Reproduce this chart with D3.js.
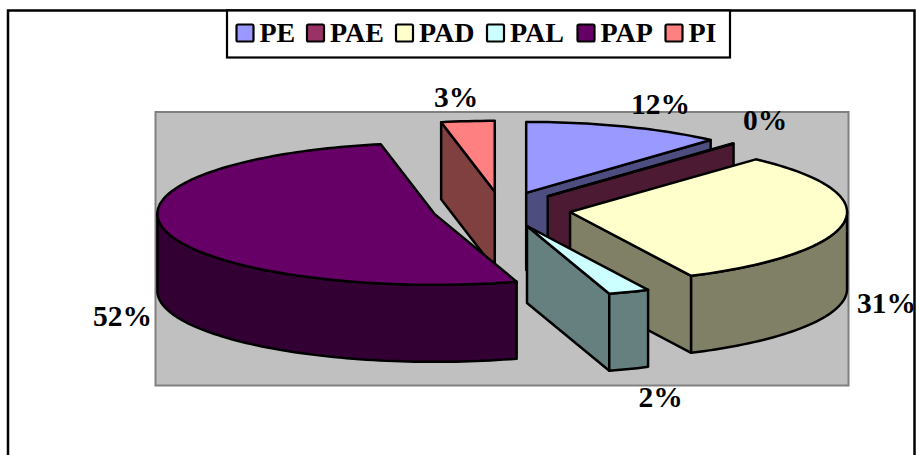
<!DOCTYPE html>
<html><head><meta charset="utf-8">
<script src="https://cdn.jsdelivr.net/npm/d3@7"></script>
<style>html,body{margin:0;padding:0;background:#fff;overflow:hidden}svg{display:block}text{font-family:"Liberation Serif","Times New Roman",serif;font-weight:bold;fill:#000}</style>
</head><body><svg id="c" width="916" height="455"></svg>
<script>
const categories = ["PE","PAE","PAD","PAL","PAP","PI"];
const seriesValues = [11.6,0.1,31.1,2.4,51.7,3.1];
const colors = ["#9999FF","#993366","#FFFFCC","#CCFFFF","#660066","#FF8080"];
const drawOrder = ["PI","PE","PAE","PAD","PAL","PAP"];
const labelPos = {PE:[660.5,114],PAE:[765,130],PAD:[886.5,313],PAL:[660.5,407],PAP:[122.5,326],PI:[456,107]};
const legendStarts = [236.5,307,396,487,577.5,665.5];

const W=916,H=455, cx=501.5, cy=209.5, rx=277, ry=71, depth=77, explode=0.25;
const svg=d3.select("#c");
svg.append("rect").attr("width",W).attr("height",H).attr("fill","#fff");
svg.append("rect").attr("x",8).attr("y",10.5).attr("width",906.5).attr("height",460).attr("fill","#fff").attr("stroke","#000").attr("stroke-width",2.5);
svg.append("rect").attr("x",155.5).attr("y",112).attr("width",693).attr("height",273.5).attr("fill","#C0C0C0").attr("stroke","#808080").attr("stroke-width",2);

const color=d3.scaleOrdinal(categories,colors);
const pie=d3.pie().sort(null).value(d=>d.v);
const arcs=pie(categories.map((c,i)=>({c,v:seriesValues[i]})));
const shade=c=>{const r=d3.rgb(c);return d3.rgb(r.r/2,r.g/2,r.b/2).formatHex();};
const px=d3.scaleLinear().domain([-1,1]).range([-rx,rx]);
const py=d3.scaleLinear().domain([-1,1]).range([-ry,ry]);
const pt=(a,ox,oy,dz=0)=>[ox+px(Math.sin(a)),oy+py(-Math.cos(a))+dz];
const line=d3.line();
const poly=p=>line(p)+"Z";
const sample=(a0,a1,ox,oy,dz)=>{const n=Math.max(2,Math.ceil(Math.abs(a1-a0)*40));return d3.range(n+1).map(i=>pt(a0+(a1-a0)*i/n,ox,oy,dz));};

const g=svg.append("g").attr("stroke","#000").attr("stroke-width",2.5).attr("stroke-linejoin","round");
drawOrder.forEach(name=>{
  const d=arcs[categories.indexOf(name)], a0=d.startAngle, a1=d.endAngle, mid=(a0+a1)/2;
  const ox=cx+px(Math.sin(mid))*explode, oy=cy+py(-Math.cos(mid))*explode;
  const base=color(name), dark=shade(base);
  const apex=[ox,oy], apexB=[ox,oy+depth];
  if(Math.sin(a1)>1e-6) g.append("path").attr("d",poly([apex,pt(a1,ox,oy),pt(a1,ox,oy,depth),apexB])).attr("fill",dark);
  if(Math.sin(a0)<-1e-6) g.append("path").attr("d",poly([pt(a0,ox,oy),apex,apexB,pt(a0,ox,oy,depth)])).attr("fill",dark);
  const w0=Math.max(a0,Math.PI/2), w1=Math.min(a1,3*Math.PI/2);
  if(w1>w0) g.append("path").attr("d",poly([...sample(w0,w1,ox,oy,0),...sample(w1,w0,ox,oy,depth)])).attr("fill",dark);
  g.append("path").attr("d",poly([apex,...sample(a0,a1,ox,oy,0)])).attr("fill",base);
});

categories.forEach((c,i)=>{
  const [x,y]=labelPos[c];
  svg.append("text").attr("x",x).attr("y",y).attr("text-anchor","middle").attr("font-size",29.5).text(Math.round(seriesValues[i])+"%");
});

const lg=svg.append("g");
lg.append("rect").attr("x",227).attr("y",10.5).attr("width",503).attr("height",47).attr("fill","#fff").attr("stroke","#000").attr("stroke-width",2.2);
categories.forEach((c,i)=>{
  const x=legendStarts[i];
  lg.append("rect").attr("x",x).attr("y",24.5).attr("width",17).attr("height",17).attr("rx",1.5).attr("fill",colors[i]).attr("stroke","#000").attr("stroke-width",2.2);
  lg.append("text").attr("x",x+23).attr("y",42).attr("font-size",28).text(c);
});
</script></body></html>
